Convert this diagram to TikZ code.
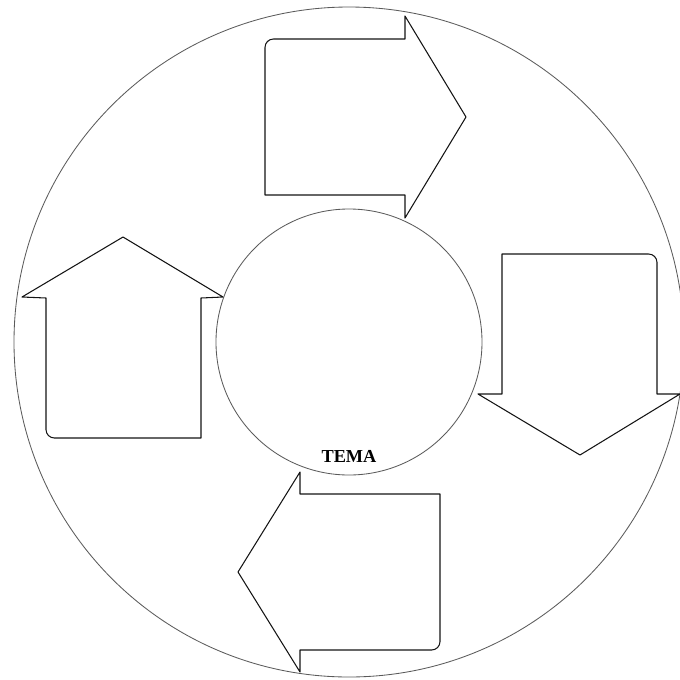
\documentclass[tikz,border=0pt]{standalone}
\usepackage{fontspec}
\setmainfont{Liberation Serif}
\usepackage{tikz}
\usetikzlibrary{calc}
\definecolor{rimedge}{RGB}{90,90,90}
\definecolor{arredge}{RGB}{20,20,20}
\tikzset{
  rim/.style={draw=rimedge, line width=0.6pt},
  bigarr/.style={draw=arredge, line width=0.75pt, line join=round, fill=white},
  lbl/.style={font=\fontsize{13}{15}\selectfont\bfseries, inner sep=0pt},
  every picture/.append style={x=0.025cm, y=-0.025cm}
}
\begin{document}
\begin{tikzpicture}
  \useasboundingbox (0,0) rectangle (680,680);
  \coordinate (c) at (349,342);
  \draw[rim] (c) circle[radius=335];
  \draw[rim] (c) circle[radius=133];
  % four arrows round the ring
  \draw[bigarr] (265,117) {[rounded corners=6pt] -- (265,39) -- (335,39)}
    -- (405,39) -- (405,16) -- (466,117) -- (405,218) -- (405,195) -- (265,195) -- cycle;
  \draw[bigarr] (580,254) {[rounded corners=6pt] -- (657,254) -- (657,320)}
    -- (657,394) -- (680,394) -- (580,455) -- (478,394) -- (502,394) -- (502,254) -- cycle;
  \draw[bigarr] (123,438) {[rounded corners=6pt] -- (46,438) -- (46,370)}
    -- (46,298) -- (22,297) -- (123,237) -- (223,297) -- (201,298) -- (201,438) -- cycle;
  \draw[bigarr] (440,572) {[rounded corners=6pt] -- (440,650) -- (370,650)}
    -- (300,650) -- (300,672) -- (238,572) -- (300,472) -- (300,494) -- (440,494) -- cycle;
  \node[lbl] (tema) at (349,456) {TEMA};
\end{tikzpicture}
\end{document}
